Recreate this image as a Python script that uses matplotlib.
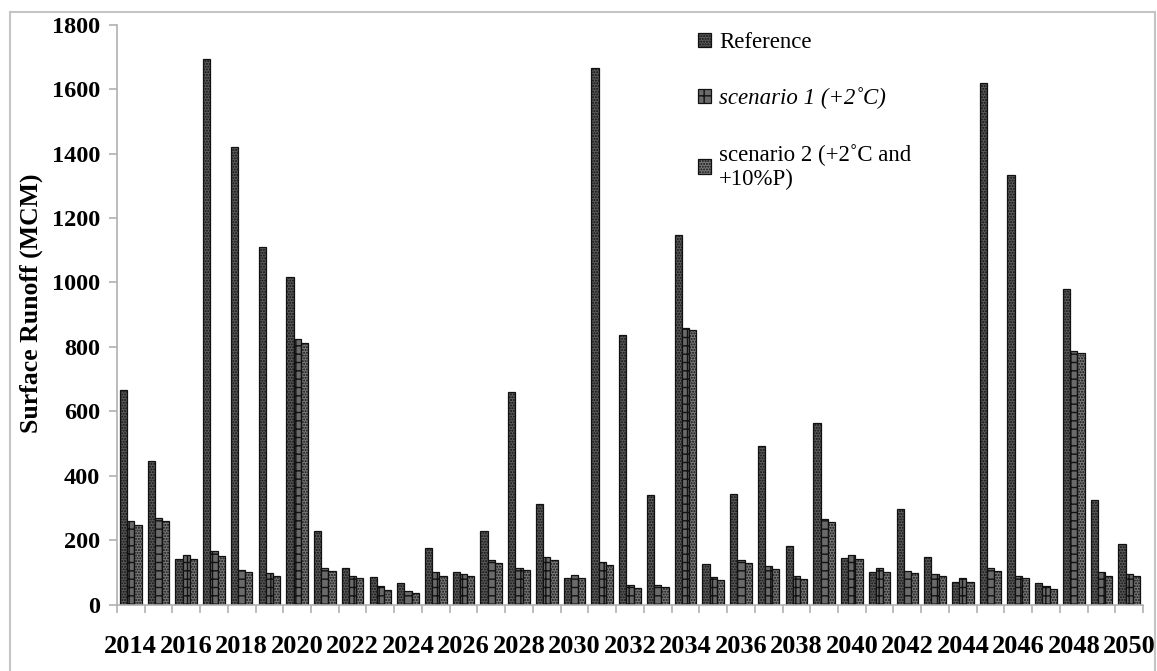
import numpy as np
import matplotlib
matplotlib.use("Agg")
import matplotlib.pyplot as plt
from matplotlib.patches import Rectangle

# Surface runoff (MCM) per year
years = list(range(2014, 2051))
reference = [665, 446, 142, 1695, 1420, 1109, 1016, 229, 115, 87, 66, 176, 102,
             229, 659, 313, 83, 1667, 836, 339, 1149, 126, 344, 493, 183, 564,
             145, 102, 297, 149, 69, 1620, 1333, 66, 981, 325, 188]
scenario1 = [260, 269, 154, 166, 107, 98, 825, 114, 90, 58, 42, 102, 96,
             139, 114, 149, 92, 133, 61, 61, 860, 87, 139, 121, 89, 266,
             155, 115, 105, 96, 82, 114, 89, 59, 788, 102, 96]
scenario2 = [248, 259, 141, 151, 102, 88, 813, 104, 82, 46, 36, 90, 88,
             129, 106, 139, 83, 123, 51, 56, 852, 77, 129, 111, 80, 256,
             141, 102, 98, 88, 69, 104, 82, 48, 781, 90, 88]
series_names = ["Reference", "scenario 1 (+2˚C)", "scenario 2 (+2˚C and\n+10%P)"]

plt.rcParams['font.family'] = ['Liberation Serif', 'DejaVu Serif']

fig = plt.figure(figsize=(11.57, 6.71), dpi=100)
ax = fig.add_axes([0.101, 0.099, 0.887, 0.864])

x = np.arange(len(years))
w = 0.26
styles = [
    dict(facecolor="#5a5a5a", hatch="......"),
    dict(facecolor="#6a6a6a", hatch="++"),
    dict(facecolor="#7a7a7a", hatch="......"),
]
for k, (vals, name) in enumerate(zip([reference, scenario1, scenario2], series_names)):
    ax.bar(x + (k - 1) * w, vals, width=w, edgecolor="#111111", linewidth=0.9,
           label=name, **styles[k])

ax.set_xlim(-0.5, len(years) - 0.5)
ax.set_ylim(0, 1800)
ax.set_yticks(range(0, 1801, 200))
ax.tick_params(axis="y", labelsize=17.5, length=6, color="#b0b0b0", width=1.2, pad=6)
for t in ax.get_yticklabels():
    t.set_fontweight("bold")

# category boundary ticks, labels on every other year
ax.set_xticks(np.arange(-0.5, len(years), 1.0))
ax.set_xticklabels([])
ax.set_xticks(x[::2], minor=True)
ax.set_xticklabels([str(y) for y in years[::2]], minor=True)
ax.tick_params(axis="x", which="major", length=6, color="#b0b0b0", width=1.2)
ax.tick_params(axis="x", which="minor", length=0, labelsize=19, pad=22)
for t in ax.get_xticklabels(minor=True):
    t.set_fontweight("bold")

for s in ["top", "right"]:
    ax.spines[s].set_visible(False)
for s in ["left", "bottom"]:
    ax.spines[s].set_color("#b0b0b0")
    ax.spines[s].set_linewidth(1.2)

ax.set_ylabel("Surface Runoff (MCM)", fontsize=18.5, fontweight="bold", labelpad=2)
ax.yaxis.set_label_coords(-0.072, 0.52)

leg = ax.legend(loc="upper left", bbox_to_anchor=(0.595, 0.966), bbox_transform=fig.transFigure,
                frameon=False, fontsize=16.5, handlelength=0.6, handleheight=0.6,
                handletextpad=0.35, labelspacing=1.5, borderaxespad=0)
leg.get_texts()[1].set_fontstyle("italic")

# outer chart border
fig.patches.append(Rectangle((0.0086, -0.01), 0.9897, 0.992, transform=fig.transFigure,
                             fill=False, edgecolor="#c4c4c4", linewidth=1.5))

fig.savefig("out.png", dpi=100)
